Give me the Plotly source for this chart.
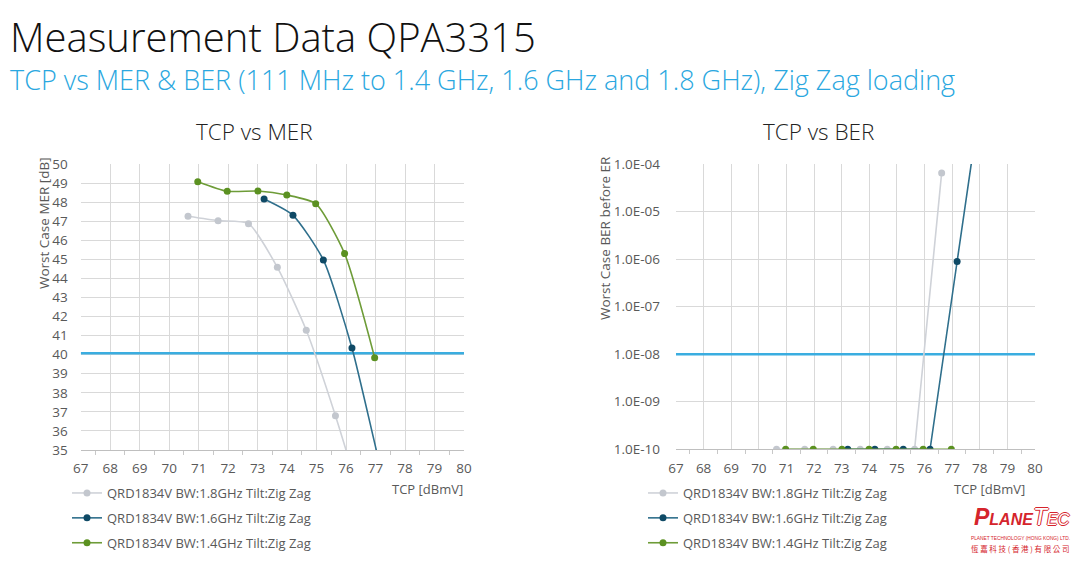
import plotly.graph_objects as go

# ---------------- data ----------------
tcp_18 = [70.64, 71.66, 72.69, 73.67, 74.65, 75.64, 76.62]
mer_18 = [47.26, 47.03, 46.87, 44.58, 41.28, 36.80, 31.8]
ber_18 = [1e-10, 1e-10, 1e-10, 1e-10, 1e-10, 1e-10, 6.5e-5]

tcp_16 = [73.22, 74.20, 75.23, 76.20, 77.18, 78.20]
mer_16 = [48.16, 47.31, 44.97, 40.35, 34.0, 28.0]
ber_16 = [1e-10, 1e-10, 1e-10, 1e-10, 8.9e-7, 1.1e-2]

tcp_14 = [70.97, 71.97, 73.01, 73.99, 74.97, 75.95, 76.97]
mer_14 = [49.07, 48.57, 48.58, 48.37, 47.92, 45.30, 39.84]
ber_14 = [1e-10, 1e-10, 1e-10, 1e-10, 1e-10, 1e-10, 1e-10]

limit_x = [67, 80]
mer_limit = [40.08, 40.08]
ber_limit = [1e-8, 1e-8]

series_names = ["QRD1834V BW:1.8GHz Tilt:Zig Zag",
                "QRD1834V BW:1.6GHz Tilt:Zig Zag",
                "QRD1834V BW:1.4GHz Tilt:Zig Zag"]
ber_tickvals = [1e-10, 1e-9, 1e-8, 1e-7, 1e-6, 1e-5, 1e-4]
ber_ticktext = ["1.0E-10", "1.0E-09", "1.0E-08", "1.0E-07", "1.0E-06", "1.0E-05", "1.0E-04"]

# ---------------- styles ----------------
OFF = 8                      # page body margin
W, H = 1080 - 2 * OFF, 568 - 2 * OFF
FONT = "Open Sans"
TXT = "#595959"
GRID = "#d9d9d9"
colors = [("#cfd2d8", "#c3c7ce"), ("#2f6f8c", "#0f4a66"), ("#6e9c38", "#5b9121")]
LIMIT = "#3aade0"
RED = "#d5242c"

def px_x(p):
    return (p - OFF) / W

def px_y(p):
    return 1 - (p - OFF) / H

fig = go.Figure()

mer_sets = [(tcp_18, mer_18), (tcp_16, mer_16), (tcp_14, mer_14)]
ber_sets = [(tcp_18, ber_18), (tcp_16, ber_16), (tcp_14, ber_14)]

fig.add_trace(go.Scatter(x=limit_x, y=mer_limit, mode="lines", showlegend=False,
                         line=dict(color=LIMIT, width=2.5), xaxis="x", yaxis="y", hoverinfo="skip"))
fig.add_trace(go.Scatter(x=limit_x, y=ber_limit, mode="lines", showlegend=False,
                         line=dict(color=LIMIT, width=2.5), xaxis="x2", yaxis="y2", hoverinfo="skip"))

for i, (xs, ys) in enumerate(mer_sets):
    lc, mc = colors[i]
    fig.add_trace(go.Scatter(x=xs, y=ys, mode="lines+markers", name=series_names[i],
                             line=dict(color=lc, width=1.6, shape="spline", smoothing=0.6),
                             marker=dict(color=mc, size=7),
                             xaxis="x", yaxis="y", legend="legend", legendgroup="a%d" % i))
for i, (xs, ys) in enumerate(ber_sets):
    lc, mc = colors[i]
    fig.add_trace(go.Scatter(x=xs, y=ys, mode="lines+markers", name=series_names[i],
                             line=dict(color=lc, width=1.6),
                             marker=dict(color=mc, size=7),
                             xaxis="x2", yaxis="y2", legend="legend2", legendgroup="b%d" % i))

tickfont = dict(family=FONT, size=13.5, color=TXT)
xcommon = dict(range=[67, 80], dtick=1, showgrid=True, gridcolor=GRID, gridwidth=1,
               showline=True, linecolor="#bfbfbf", zeroline=False, tickfont=tickfont,
               ticks="", ticklabelstandoff=6,
               minor=dict(dtick=0.5, ticks="outside", ticklen=4, tickcolor="#c8c8c8", showgrid=False))

legfont = dict(family=FONT, size=13, color=TXT)
fig.update_layout(
    width=W, height=H, margin=dict(l=0, r=0, t=0, b=0, autoexpand=False),
    paper_bgcolor="white", plot_bgcolor="white",
    xaxis=dict(domain=[px_x(80.7), px_x(464)], anchor="y", **xcommon),
    yaxis=dict(domain=[px_y(450), px_y(164)], anchor="x", range=[35, 50], dtick=1,
               showgrid=True, gridcolor=GRID, zeroline=False, showline=False,
               tickfont=tickfont, ticklabelstandoff=12),
    xaxis2=dict(domain=[px_x(676), px_x(1035)], anchor="y2", **xcommon),
    yaxis2=dict(domain=[px_y(449.3), px_y(164)], anchor="x2", type="log", range=[-10, -4],
                tickvals=ber_tickvals, ticktext=ber_ticktext,
                showgrid=True, gridcolor=GRID, zeroline=False, showline=False,
                tickfont=tickfont, ticklabelstandoff=15),
    legend=dict(x=px_x(67), y=px_y(478), xanchor="left", yanchor="top",
                font=legfont, tracegroupgap=5,
                traceorder="grouped", bgcolor="rgba(0,0,0,0)", itemwidth=30),
    legend2=dict(x=px_x(643), y=px_y(478), xanchor="left", yanchor="top",
                 font=legfont, tracegroupgap=5,
                 traceorder="grouped", bgcolor="rgba(0,0,0,0)", itemwidth=30),
    showlegend=True,
)

ann = []
def add_text(text, x, y, size, color="#000", xanchor="left", angle=0, family=FONT,
             weight=None, yanchor="middle", shadow=None, align="center"):
    f = dict(family=family, size=size, color=color)
    if weight is not None:
        f["weight"] = weight
    if shadow is not None:
        f["shadow"] = shadow
    ann.append(dict(text=text, x=px_x(x), y=px_y(y), xref="paper", yref="paper",
                    xanchor=xanchor, yanchor=yanchor, showarrow=False, textangle=angle,
                    borderpad=0, align=align, font=f))

title_html = ("<span style='font-size:40px;color:#111111'>Measurement Data QPA3315</span><br>"
              "<span style='font-size:27px;color:#2aa7e0'>TCP vs MER &amp; BER (111 MHz to 1.4 GHz, "
              "1.6 GHz and 1.8 GHz), Zig Zag loading</span>")
add_text(title_html, 9, 8, 29, "#111111", weight=300, yanchor="top", align="left")
add_text("TCP vs MER", 254, 131, 22.5, "#222222", xanchor="center", weight=300)
add_text("TCP vs BER", 818, 131, 22.5, "#222222", xanchor="center", weight=300)
add_text("Worst Case MER [dB]", 44, 223, 13.5, TXT, xanchor="center", angle=-90)
add_text("Worst Case BER before ER", 605, 238, 13.5, TXT, xanchor="center", angle=-90)
add_text("TCP [dBmV]", 427, 489, 13, TXT, xanchor="center")
add_text("TCP [dBmV]", 989, 489, 13, TXT, xanchor="center")
# logo
add_text("<b><i>P<span style='font-size:16px'>LANE</span></i></b>",
         1035, 517, 23, RED, xanchor="right", family="Liberation Sans")
outline = "1px 0 0 %s, -1px 0 0 %s, 0 1px 0 %s, 0 -1px 0 %s" % (RED, RED, RED, RED)
add_text("<i>T<span style='font-size:16px'>EC</span></i>",
         1032, 517, 23, "#ffffff", xanchor="left", family="Liberation Sans", shadow=outline)
add_text("PLANET TECHNOLOGY (HONG KONG) LTD.", 1020, 538, 4.8, RED, xanchor="center", family="Liberation Sans")
add_text("恆 嘉 科 技 ( 香 港 ) 有 限 公 司", 1020, 548, 7.5, RED, xanchor="center", family="Noto Sans CJK TC")
fig.update_layout(annotations=ann)

fig.write_html("out.html")
